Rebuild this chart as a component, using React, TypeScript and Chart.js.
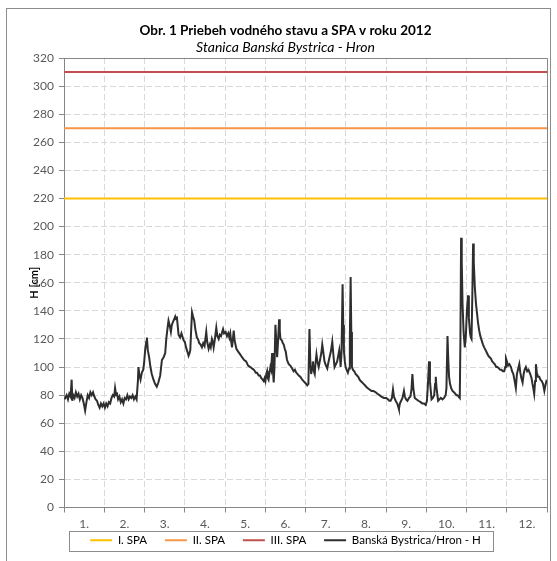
import React, { useEffect, useRef } from "react";
import { Chart, registerables } from "chart.js";

Chart.register(...registerables);

const titleText = "Obr. 1 Priebeh vodného stavu a SPA v roku 2012";
const subtitleText = "Stanica Banská Bystrica - Hron";
const yAxisTitle = "H [cm]";
const months = ["1.", "2.", "3.", "4.", "5.", "6.", "7.", "8.", "9.", "10.", "11.", "12."];

const spaNames = ["I. SPA", "II. SPA", "III. SPA"];
const spaLevels = [220, 270, 310];
const spaColors = ["#FFC000", "#F79646", "#C0504D"];

const seriesName = "Banská Bystrica/Hron - H";
// position along the year (days from 1 Jan)
const days = [
  0.5, 1, 2, 3, 4, 5, 5.8, 6.3, 7, 8, 9, 10, 11, 12, 13, 14, 15, 16, 17, 18, 19, 20, 21, 22, 23, 24, 25, 26, 27, 28, 29, 30,
  31, 32, 33, 34, 35, 36, 37, 38, 38.7, 39.5, 40, 41, 42, 43, 44, 45, 46, 47, 48, 49, 50, 51, 52, 53, 54, 55,
  56, 56.4, 57, 58, 59, 60, 60.7, 61.5, 62.3, 62.8, 63.5, 64.5, 65.5, 66.5, 67.8, 69, 70.3, 71.5, 72.9, 74.2, 75.5, 76.7,
  77.5, 78.5, 79.2, 80, 81, 81.7, 82.5, 83.5, 84.3, 85, 85.5, 86.3, 86.8, 88, 89, 90.6, 91.5, 92.5, 93.5, 94.4, 95.2, 95.7,
  96.3, 97, 97.8, 98.7, 99.5, 100.7, 101.5, 102.5, 103.5, 104.5, 105.5, 106.5, 107.8, 108.5, 109.6, 110.5, 111.2, 112.1,
  112.8, 113.4, 114.2, 115.4, 116.2, 117.2, 118, 119, 120.5, 121.3, 122.5, 123.5, 124.5, 125.3, 126, 126.7, 127.3, 128,
  128.6, 129.3, 130.6, 132, 133.5, 134.9, 136.5, 138, 139.5, 141.2, 142.5, 144, 145.3, 146.3, 147.5, 148.5, 149.5, 150.5,
  151.3, 152, 152.6, 153.3, 153.9, 154.5, 155, 155.7, 156.4, 157, 157.7, 158.3, 158.9, 159.5, 160.2, 160.8, 161.5, 162.2,
  163, 163.5, 164, 165, 165.8, 166.5, 167.3, 168, 169, 170.3, 171.5, 172.9, 174, 175, 176, 177, 177.9, 179.2, 180.5, 181.5,
  182.5, 183.5, 184.3, 185.2, 186, 186.6, 187.3, 188, 188.6, 189.3, 190, 190.6, 191.3, 192, 193, 194, 195, 195.7, 196.3,
  197.4, 198.5, 199.5, 200.3, 201.2, 202.2, 203.3, 204, 205, 206, 207, 207.8, 208.6, 209.2, 209.6, 210.3, 211.1, 211.6,
  212.1, 212.8, 213.4, 214.2, 215.1, 216, 216.6, 217.2, 217.7, 218.2, 219, 220, 221, 222, 223, 224, 224.8, 226, 227, 228,
  229, 230, 231.5, 233, 234.5, 236.2, 237.5, 239, 240.5, 242.4, 244, 245.5, 246.5, 247.5, 248.5, 249.3, 250, 251.3, 252.5,
  253.2, 253.8, 254.5, 255.5, 256.5, 257.6, 258.3, 259.2, 260.2, 261.5, 262.5, 263.3, 264, 264.8, 265.8, 267, 268.5, 270.3,
  271.5, 272.8, 274.1, 275, 275.8, 276.6, 277.3, 278.5, 279.5, 280.5, 281.2, 281.7, 282.3, 283.5, 284.5, 285.5, 286.8, 288,
  289.2, 289.8, 290.6, 291.2, 291.8, 292.5, 293.4, 294.4, 295.5, 296.5, 297.3, 298.2, 299, 299.9, 300.4, 300.9, 301.4, 302,
  302.8, 303.7, 304.5, 305.3, 306.2, 306.8, 307.7, 308.3, 308.8, 309.4, 310, 310.5, 311.3, 312.2, 313, 313.8, 314.6, 315.5,
  316.5, 317.5, 318.4, 319.5, 320.5, 321.5, 322.5, 323.5, 324.5, 325.5, 326.5, 327.5, 328.5, 329.5, 330.5, 331.5, 332.5,
  333.6, 334.3, 334.9, 335.6, 336.5, 337.5, 338.7, 339.5, 340.5, 341.5, 342.4, 343.2, 344, 345, 345.8, 346.6, 347.5, 348.3,
  349, 350, 351, 352, 353.3, 354.3, 355, 355.8, 356.3, 357, 357.6, 358.3, 359.2, 360.1, 361, 362, 363, 364, 364.8, 365.8,
];
const levels = [
  77, 78, 80, 77, 81, 79, 91, 76, 80, 78, 82, 79, 81, 77, 80, 78, 74, 69, 75, 80, 78, 82, 80, 82, 79, 77, 76, 73, 71, 74, 72, 74,
  71, 74, 72, 75, 74, 78, 80, 79, 85, 80, 82, 77, 79, 75, 77, 74, 78, 77, 80, 77, 79, 78, 80, 77, 79, 77,
  90, 100, 95, 91, 96, 98, 103, 112, 118, 121, 112, 107, 100, 95, 91, 88, 86, 89, 94, 105, 107, 110,
  120, 128, 133, 130, 125, 130, 132, 134, 136, 134, 136, 128, 123, 121, 124, 119, 118, 114, 111, 108, 110, 112,
  125, 139, 136, 133, 127, 121, 120, 117, 116, 114, 117, 115, 125, 118, 113, 116, 114, 120,
  118, 114, 119, 128, 122, 120, 123, 122, 127, 124, 125, 122, 124, 121, 124, 118, 114, 120,
  126, 119, 113, 111, 109, 107, 105, 104, 101, 100, 99, 98, 96, 96, 94, 94, 92, 91,
  90, 92, 90, 95, 97, 92, 91, 96, 100, 98, 110, 98, 89, 100, 130, 120, 107, 118,
  134, 126, 120, 119, 117, 116, 113, 111, 105, 102, 101, 99, 97, 98, 96, 95, 94, 93, 91, 90,
  89, 88, 87, 88, 127, 105, 95, 100, 104, 97, 95, 103, 109, 104, 100, 105, 110, 116, 112,
  104, 101, 99, 103, 107, 111, 118, 110, 100, 102, 104, 108, 112, 106, 100, 110, 159, 130,
  112, 104, 100, 98, 96, 99, 120, 164, 125, 100, 98, 97, 95, 94, 93, 91, 90, 89, 88, 87,
  86, 85, 84, 83, 83, 82, 81, 80, 79, 78, 78, 77, 76, 76, 78, 84, 79, 76, 74,
  72, 70, 74, 76, 78, 83, 79, 77, 76, 78, 79, 84, 95, 84, 78, 77, 76, 75,
  74, 74, 73, 76, 88, 104, 90, 77, 78, 80, 88, 93, 85, 76, 77, 78, 77, 78,
  80, 85, 122, 105, 93, 88, 85, 83, 82, 81, 80, 80, 79, 78, 120, 192, 175, 145,
  125, 114, 122, 140, 151, 135, 124, 121, 120, 150, 188, 175, 157, 145, 138, 131, 126, 122,
  119, 116, 114, 112, 110, 108, 107, 106, 104, 103, 102, 100, 100, 99, 98, 98, 97,
  97, 100, 106, 104, 101, 102, 100, 97, 95, 90, 85, 95, 98, 102, 96, 92, 89, 95,
  98, 100, 97, 98, 95, 92, 88, 84, 81, 90, 102, 96, 93, 93, 91, 90, 88, 83, 87, 91,
];

const FONT = "Lato, 'Open Sans', sans-serif";

const framePlugin = {
  id: "frame",
  beforeDraw(chart: any) {
    const ctx = chart.ctx;
    ctx.save();
    ctx.fillStyle = "#ffffff";
    ctx.fillRect(0, 0, chart.width, chart.height);
    ctx.strokeStyle = "#8c8c8c";
    ctx.lineWidth = 1;
    ctx.strokeRect(6.5, 8.5, 544, 600);
    ctx.restore();
  },
  afterDraw(chart: any) {
    const ctx = chart.ctx;
    const { left, top, right, bottom } = chart.chartArea;
    ctx.save();
    ctx.strokeStyle = "#868686";
    ctx.lineWidth = 1;
    ctx.beginPath();
    ctx.moveTo(Math.round(left) + 0.5, Math.round(top) + 0.5);
    ctx.lineTo(Math.round(right) + 0.5, Math.round(top) + 0.5);
    ctx.lineTo(Math.round(right) + 0.5, Math.round(bottom) + 0.5);
    ctx.stroke();
    const boxes = chart.legend && chart.legend.legendHitBoxes;
    if (boxes && boxes.length) {
      let l = Infinity, r = -Infinity, t = Infinity, b = -Infinity;
      for (const h of boxes) {
        l = Math.min(l, h.left);
        r = Math.max(r, h.left + h.width);
        t = Math.min(t, h.top);
        b = Math.max(b, h.top + h.height);
      }
      ctx.strokeStyle = "#8c8c8c";
      ctx.strokeRect(Math.round(l - 21) + 0.5, Math.round(t - 4) + 0.5, Math.round(r - l + 33), Math.round(b - t + 8));
    }
    ctx.restore();
  },
};

export default function App() {
  const ref = useRef<HTMLCanvasElement | null>(null);

  useEffect(() => {
    if (!ref.current) return;
    const seriesData = days.map((d, i) => ({ x: d, y: levels[i] }));
    const datasets: any[] = spaNames.map((name, i) => ({
      label: name,
      data: [
        { x: 0, y: spaLevels[i] },
        { x: 366, y: spaLevels[i] },
      ],
      borderColor: spaColors[i],
      backgroundColor: spaColors[i],
      borderWidth: 2,
      pointRadius: 0,
      xAxisID: "x2",
      yAxisID: "y",
    }));
    datasets.push({
      label: seriesName,
      data: seriesData,
      borderColor: "#2e2e2e",
      backgroundColor: "#2e2e2e",
      borderWidth: 2,
      pointRadius: 0,
      tension: 0,
      xAxisID: "x2",
      yAxisID: "y",
    });

    const chart = new Chart(ref.current, {
      type: "line",
      data: { labels: months, datasets },
      plugins: [framePlugin],
      options: {
        animation: false,
        responsive: false,
        devicePixelRatio: 1,
        layout: { padding: { top: 0, left: 24, right: 10, bottom: 5 } },
        plugins: {
          title: {
            display: true,
            text: titleText,
            color: "#000000",
            font: { family: FONT, size: 13.5, weight: "bold" },
            padding: { top: 23, bottom: 0 },
          },
          subtitle: {
            display: true,
            text: subtitleText,
            color: "#000000",
            font: { family: FONT, size: 14, style: "italic" },
            padding: { top: 0, bottom: 2 },
          },
          legend: {
            display: true,
            position: "bottom",
            labels: {
              usePointStyle: true,
              pointStyle: "line",
              pointStyleWidth: 22,
              boxHeight: 11,
              padding: 6,
              color: "#000000",
              font: { family: FONT, size: 11.5 },
              generateLabels: (chart: any) => {
                const items = Chart.defaults.plugins.legend.labels.generateLabels(chart);
                return items.map((it: any, i: number) => ({
                  ...it,
                  text: i < items.length - 1 ? it.text + "    " : it.text,
                }));
              },
            },
          },
          tooltip: { enabled: false },
        },
        scales: {
          x: {
            type: "category",
            offset: true,
            grid: {
              offset: true,
              color: "#d9d9d9",
              tickColor: "#868686",
              tickLength: 5,
            },
            border: { display: true, color: "#868686", dash: [6, 3] },
            ticks: { color: "#595959", font: { family: FONT, size: 12 }, padding: 4, maxRotation: 0 },
            afterFit: (s: any) => {
              s.height = 21;
            },
          },
          x2: {
            type: "linear",
            display: false,
            min: 0,
            max: 366,
          },
          y: {
            type: "linear",
            min: 0,
            max: 320,
            grid: { color: "#d9d9d9", tickColor: "#868686", tickLength: 5 },
            border: { display: true, color: "#868686", dash: [6, 3] },
            ticks: { stepSize: 20, color: "#595959", font: { family: FONT, size: 12 }, padding: 5 },
            title: {
              display: true,
              text: yAxisTitle,
              color: "#000000",
              font: { family: FONT, size: 11, weight: "bold" },
            },
            afterFit: (s: any) => {
              s.width = 40;
            },
          },
        },
      },
    });
    return () => chart.destroy();
  }, []);

  return (
    <div style={{ position: "absolute", left: 0, top: 0, width: 557, height: 561 }}>
      <canvas ref={ref} width={557} height={561} style={{ display: "block", width: 557, height: 561 }} />
    </div>
  );
}
